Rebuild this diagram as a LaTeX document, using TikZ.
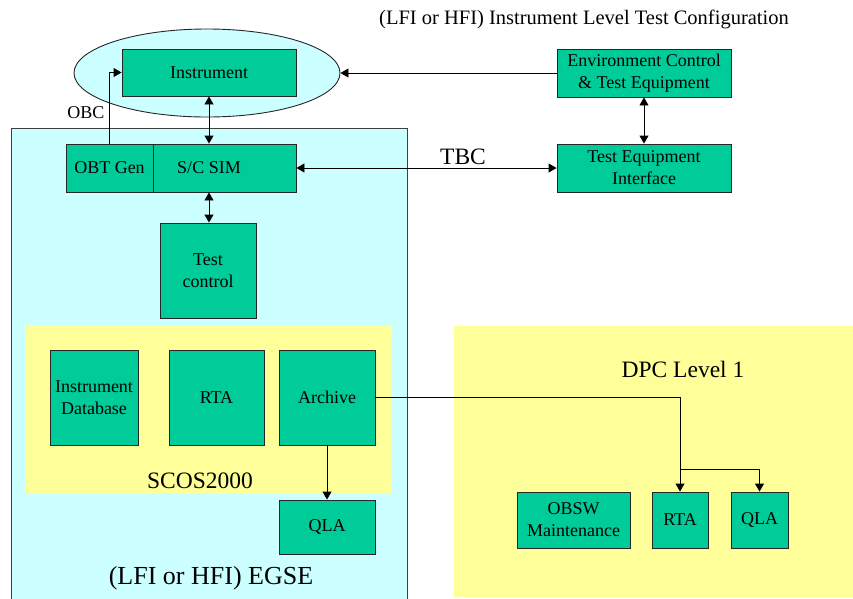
\documentclass[tikz,border=0pt]{standalone}
\usepackage{fontspec}
\setmainfont{Liberation Serif}
\usetikzlibrary{shapes.geometric,arrows.meta}
\definecolor{boxgreen}{HTML}{00CC99}
\definecolor{egsecyan}{HTML}{CCFFFF}
\definecolor{scosyellow}{HTML}{FFFF99}
\tikzset{
  box/.style={draw=black!85, fill=boxgreen, line width=0.9pt, align=center, inner sep=0pt,
              font=\fontsize{18}{22}\selectfont},
  biglabel/.style={inner sep=0pt, font=\fontsize{23.5}{26}\selectfont},
  smalllabel/.style={inner sep=0pt, font=\fontsize{18}{22}\selectfont},
  arr/.style={line width=0.9pt, -{Triangle[length=8pt,width=9pt]}},
  dbl/.style={line width=0.9pt, {Triangle[length=8pt,width=9pt]}-{Triangle[length=8pt,width=9pt]}},
  plain/.style={line width=0.9pt}
}
\begin{document}
\begin{tikzpicture}[x=1pt,y=-1pt]
\useasboundingbox (0,0) rectangle (853,598);
% background regions
\fill[egsecyan] (11,128) rectangle (407,605);
\draw[black!75, line width=0.8pt] (11,605) -- (11,128) -- (407,128) -- (407,605);
\fill[scosyellow] (26,326) rectangle (392,493);
\fill[scosyellow] (454,326) rectangle (860,597);
% ellipse
\node[draw=black!85, fill=egsecyan, ellipse, line width=0.9pt, minimum width=266pt, minimum height=88pt, inner sep=0pt] (ell) at (207,73) {};
% boxes
\node[box, minimum width=174pt, minimum height=47pt] (inst) at (209,72.5) {Instrument};
\node[box, minimum width=174pt, minimum height=48pt] (scsim) at (209,168) {S/C SIM};
\node[box, minimum width=87pt, minimum height=48pt] (obt) at (109.5,168) {OBT Gen};
\node[box, minimum width=96pt, minimum height=95pt] (testctl) at (208,270.5) {Test\\control};
\node[box, minimum width=88pt, minimum height=95pt] (idb) at (94,397.5) {Instrument\\Database};
\node[box, minimum width=95pt, minimum height=95pt] (rta1) at (216.5,397.5) {RTA};
\node[box, minimum width=96pt, minimum height=95pt] (arch) at (327,397.5) {Archive};
\node[box, minimum width=96pt, minimum height=54pt] (qla1) at (327,527) {QLA};
\node[box, minimum width=174pt, minimum height=48pt] (env) at (644,73) {Environment Control\\\& Test Equipment};
\node[box, minimum width=174pt, minimum height=48pt] (tei) at (644,168) {Test Equipment\\Interface};
\node[box, minimum width=113pt, minimum height=56pt] (obsw) at (573.5,520) {OBSW\\Maintenance};
\node[box, minimum width=56pt, minimum height=56pt] (rta2) at (680,520) {RTA};
\node[box, minimum width=57pt, minimum height=56pt] (qla2) at (759.5,520) {QLA};
% labels
\node[smalllabel, font=\fontsize{20.5}{24}\selectfont] (title) at (584,19) {(LFI or HFI) Instrument Level Test Configuration};
\node[smalllabel] (obc) at (86,113) {OBC};
\node[biglabel] (tbc) at (463,157) {TBC};
\node[biglabel] (scos) at (200,481) {SCOS2000};
\node[biglabel, font=\fontsize{26}{29}\selectfont] (egse) at (211,578) {(LFI or HFI) EGSE};
\node[biglabel] (dpc) at (683,369) {DPC Level 1};
% connectors
\draw[dbl] (inst.south) -- (scsim.north);
\draw[dbl] (scsim.south) -- (scsim.south |- testctl.north);
\draw[arr] (obt.north) |- (inst.west);
\draw[arr] (env.west) -- (ell.east);
\draw[dbl] (env.south) -- (tei.north);
\draw[dbl] (scsim.east) -- (tei.west);
\draw[arr] (arch.south) -- (qla1.north);
\draw[arr] (arch.east) -| (rta2.north);
\coordinate (br) at (680,469);
\draw[arr] (br) -| (qla2.north);
\end{tikzpicture}
\end{document}
